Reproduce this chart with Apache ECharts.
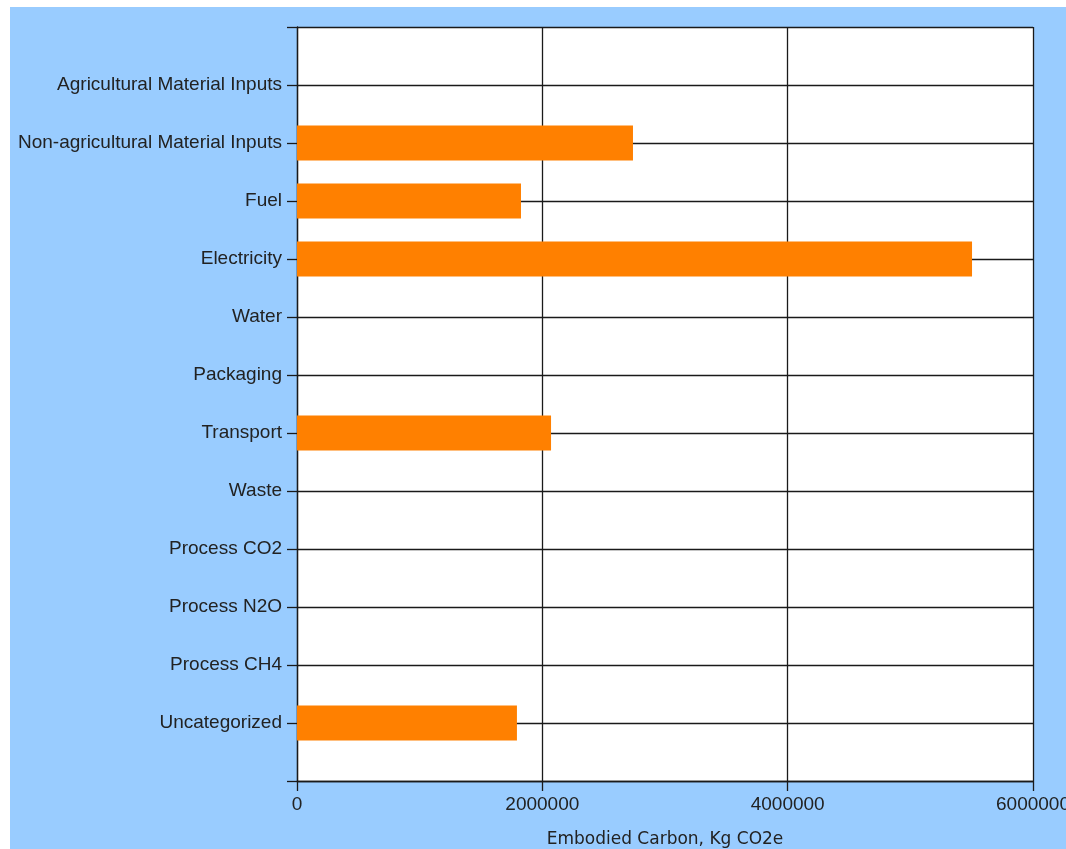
<!DOCTYPE html>
<html>
<head>
<meta charset="utf-8">
<script src="https://cdn.jsdelivr.net/npm/echarts@6/dist/echarts.min.js"></script>
<style>
  html, body { margin: 0; padding: 0; background: #ffffff; overflow: hidden; }
  #chart { position: absolute; left: 10px; top: 7px; width: 1056px; height: 842px; background: #99CCFF; }
</style>
</head>
<body>
<div id="chart"></div>
<script>
const categories = [
  'Agricultural Material Inputs',
  'Non-agricultural Material Inputs',
  'Fuel',
  'Electricity',
  'Water',
  'Packaging',
  'Transport',
  'Waste',
  'Process CO2',
  'Process N2O',
  'Process CH4',
  'Uncategorized'
];
const values = [0, 2739000, 1826000, 5503000, 0, 0, 2071000, 0, 0, 0, 0, 1793000];
const xTicks = [0, 2000000, 4000000, 6000000];
const axisTitle = 'Embodied Carbon, Kg CO2e';

// pad with empty slots so the axis has half-band space above/below
const yCats = [''].concat(categories, ['']);
const yVals = [null].concat(values, [null]);

const chart = echarts.init(document.getElementById('chart'), null, { renderer: 'canvas' });
const lineStyle = { color: '#1a1a1a', width: 1.3 };
chart.setOption({
  animation: false,
  grid: {
    left: 287, top: 20, width: 736, height: 754,
    containLabel: false,
    outerBoundsMode: 'none',
    show: true, backgroundColor: '#ffffff', borderWidth: 0
  },
  xAxis: {
    type: 'value',
    min: xTicks[0],
    max: xTicks[xTicks.length - 1],
    interval: xTicks[1] - xTicks[0],
    name: axisTitle,
    nameLocation: 'middle',
    nameGap: 50,
    nameTextStyle: { fontFamily: 'DejaVu Sans', fontSize: 17, color: '#222' },
    axisLine: { show: true, lineStyle: lineStyle },
    axisTick: { show: true, length: 10, lineStyle: lineStyle },
    axisLabel: { margin: 14, fontFamily: 'Liberation Sans', fontSize: 19, color: '#222',
      formatter: function (v) { return String(v); }, hideOverlap: false },
    splitLine: { show: true, lineStyle: lineStyle }
  },
  yAxis: {
    type: 'category',
    data: yCats,
    inverse: true,
    boundaryGap: false,
    axisLine: { show: true, lineStyle: lineStyle },
    axisTick: { show: true, length: 10, lineStyle: lineStyle, interval: 0 },
    axisLabel: { margin: 15, interval: 0, fontFamily: 'Liberation Sans', fontSize: 19, color: '#222' },
    splitLine: { show: true, interval: 0, lineStyle: lineStyle }
  },
  series: [{
    type: 'bar',
    data: yVals,
    barWidth: 35,
    itemStyle: { color: '#FF8000' }
  }]
});
</script>
</body>
</html>
